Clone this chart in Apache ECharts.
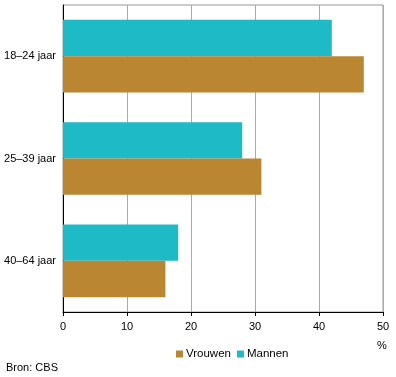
<!DOCTYPE html>
<html>
<head>
<meta charset="utf-8">
<script src="https://cdn.jsdelivr.net/npm/echarts@6/dist/echarts.min.js"></script>
<style>
  html, body { margin: 0; padding: 0; background: #fff; }
  #chart { width: 396px; height: 377px; }
</style>
</head>
<body>
<div id="chart"></div>
<script>
var categories = ['18–24 jaar', '25–39 jaar', '40–64 jaar'];
var mannen = [42, 28, 18];
var vrouwen = [47, 31, 16];
var xTicks = { min: 0, max: 50, interval: 10 };

var myChart = echarts.init(document.getElementById('chart'));
var font = 'Arial, "Liberation Sans", sans-serif';

var option = {
  animation: false,
  color: ['#1ebac6', '#ba8632'],
  textStyle: { fontFamily: font },
  grid: {
    left: 63,
    right: 13,
    top: 5,
    bottom: 65,
    show: true,
    borderColor: '#999',
    borderWidth: 1
  },
  legend: {
    data: ['Vrouwen', 'Mannen'],
    left: 171,
    top: 343,
    itemWidth: 7,
    itemHeight: 7,
    itemGap: 6,
    icon: 'rect',
    textStyle: { fontSize: 11.5, color: '#000', fontFamily: font, padding: [0, 0, 0, -2] }
  },
  graphic: [
    { type: 'text', left: 6, top: 362, style: { text: 'Bron: CBS', fontSize: 11, fill: '#000', fontFamily: font } },
    { type: 'text', left: 377, top: 340, style: { text: '%', fontSize: 11, fill: '#000', fontFamily: font } }
  ],
  xAxis: {
    type: 'value',
    min: xTicks.min,
    max: xTicks.max,
    interval: xTicks.interval,
    axisLine: { show: true, lineStyle: { color: '#000' } },
    axisTick: { show: true, length: 4, lineStyle: { color: '#000' } },
    axisLabel: { fontSize: 11, color: '#000', margin: 9, fontFamily: font },
    splitLine: { show: true, lineStyle: { color: '#aaa' } }
  },
  yAxis: {
    type: 'category',
    inverse: true,
    data: categories,
    axisLine: { show: true, lineStyle: { color: '#000' } },
    axisTick: { show: false },
    axisLabel: { fontSize: 11, color: '#000', margin: 7, fontFamily: font }
  },
  series: [
    { name: 'Mannen', type: 'bar', data: mannen, barCategoryGap: '29%', barGap: '0%' },
    { name: 'Vrouwen', type: 'bar', data: vrouwen, barCategoryGap: '29%', barGap: '0%' }
  ]
};

myChart.setOption(option);
</script>
</body>
</html>
